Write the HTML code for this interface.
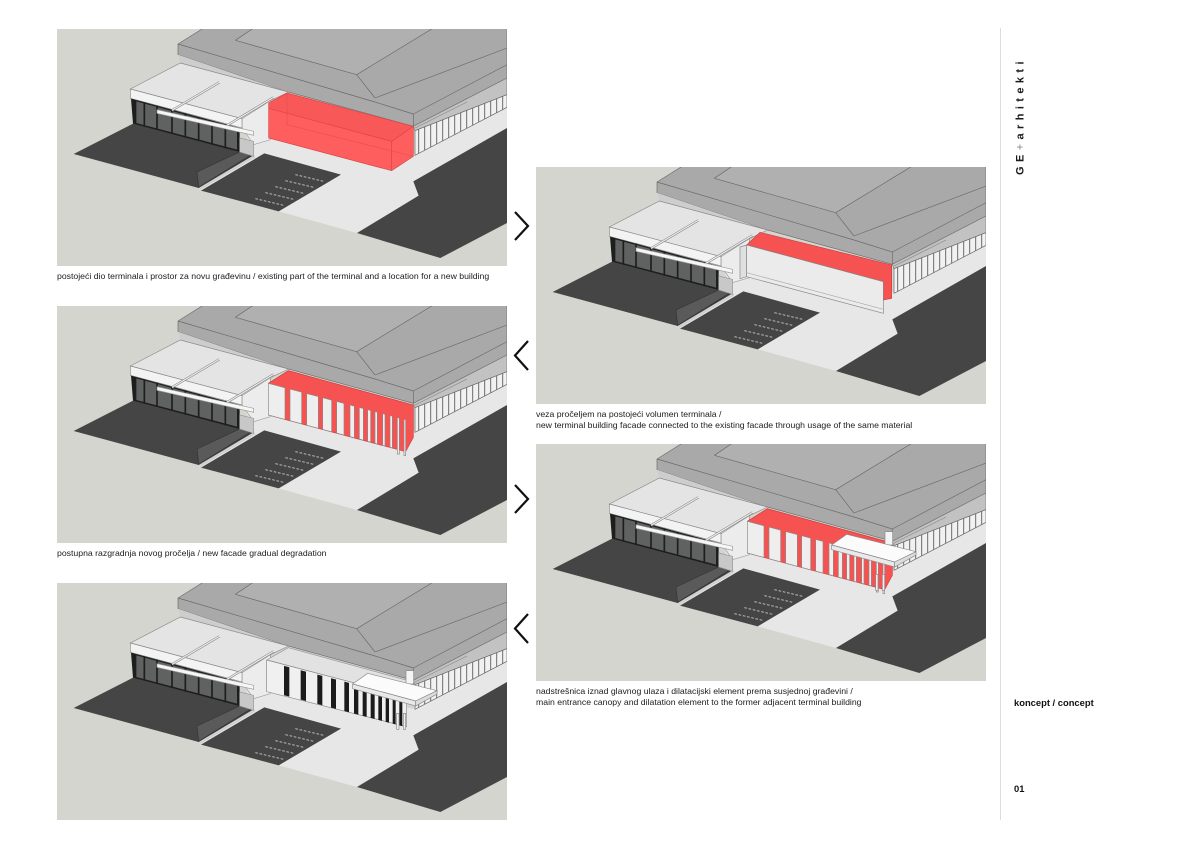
<!DOCTYPE html>
<html><head><meta charset="utf-8">
<style>
html,body{margin:0;padding:0;background:#fff;}
body{width:1200px;height:848px;overflow:hidden;position:relative;font-family:"Liberation Sans",Arial,sans-serif;}
.cap{position:absolute;font-size:8.7px;line-height:11px;color:#1c1c1c;white-space:nowrap;}
.side{position:absolute;font-size:9.4px;font-weight:bold;color:#111;white-space:nowrap;}
</style></head><body>
<svg width="1200" height="848" viewBox="0 0 1200 848" style="position:absolute;left:0;top:0">
<defs>
<clipPath id="pc"><rect x="0" y="3" width="1350" height="711"/></clipPath>
<g id="base">
  <rect x="0" y="3" width="1350" height="711" fill="#d4d5ce"/>
  <polygon points="555,290 1069,380 1350,220 1350,300 1069,460 1085,503 900,615 665,550 425,485 590,380" fill="#e7e7e7"/>
  <polygon points="50,378 232,285 555,372 590,382 425,480" fill="#454545"/>
  <polygon points="420,432 548,372 580,382 425,478" fill="#5a5a5a" stroke="#333" stroke-width="2"/>
  <line x1="428" y1="484" x2="594" y2="385" stroke="#d0d0d0" stroke-width="6"/>
  <polygon points="432,488 622,376 852,440 665,550" fill="#454545"/>
  <g stroke="#b5b5b5" stroke-width="3" stroke-dasharray="8 5">
    <line x1="715" y1="440" x2="800" y2="460"/>
    <line x1="685" y1="458" x2="770" y2="478"/>
    <line x1="655" y1="476" x2="740" y2="496"/>
    <line x1="625" y1="494" x2="710" y2="514"/>
    <line x1="595" y1="512" x2="680" y2="532"/>
  </g>
  <polygon points="1069,460 1350,300 1350,585 1150,690 900,615 1085,503" fill="#454545"/>
  <polygon points="440,0 1350,0 1350,150 1069,295 680,188 363,80 363,48" fill="#a9a9a9" stroke="#6a6a6a" stroke-width="2"/>
  <polygon points="590,0 1129,0 899,140 535,37" fill="#b0b0b0"/>
  <g stroke="#6a6a6a" stroke-width="2" fill="none">
    <line x1="363" y1="48" x2="954" y2="222"/>
    <line x1="954" y1="222" x2="1069" y2="258"/>
    <line x1="535" y1="37" x2="899" y2="140"/>
    <line x1="535" y1="37" x2="590" y2="0"/>
    <line x1="899" y1="140" x2="1129" y2="0"/>
    <line x1="899" y1="140" x2="954" y2="210"/>
    <line x1="954" y1="210" x2="1350" y2="60"/>
    <line x1="1069" y1="258" x2="1350" y2="110"/>
    <line x1="1069" y1="258" x2="1069" y2="295"/>
  </g>
  <polygon points="1069,295 1350,150 1350,200 1074,308" fill="#c2c2c2" stroke="#777" stroke-width="2"/>
  <line x1="1074" y1="300" x2="1230" y2="222" stroke="#888" stroke-width="2"/>
  <polygon points="1074,308 1350,200 1350,238 1074,382" fill="#f1f1f1" stroke="#666" stroke-width="2"/>
  <path d="M1085 304V376M1103 297V367M1121 290V358M1139 283V348M1157 276V339M1175 269V329M1193 262V320M1211 254V311M1229 247V301M1247 240V292M1265 233V282M1283 226V273M1301 219V264M1319 212V254M1337 205V245" stroke="#6d6d6d" stroke-width="3"/>
  <polygon points="363,80 680,188 695,192 370,105" fill="#cdcdcd"/>
  <polygon points="220,183 370,105 695,192 640,218 640,235 555,272" fill="#e4e4e4" stroke="#8a8a8a" stroke-width="2"/>
  <polygon points="555,272 640,218 640,335 590,350 555,300" fill="#ececec" stroke="#999" stroke-width="2"/>
  <polygon points="220,183 555,272 555,300 220,211" fill="#f3f3f3" stroke="#8a8a8a" stroke-width="2"/>
  <polygon points="222,212 548,300 548,372 228,287" fill="#1e1e1e"/>
  <polygon points="238,220 540,302 540,365 238,285" fill="#5f6261"/>
  <g stroke="#1e1e1e" stroke-width="5">
    <line x1="262" y1="223" x2="262" y2="296"/>
    <line x1="300" y1="233" x2="300" y2="306"/>
    <line x1="345" y1="245" x2="345" y2="318"/>
    <line x1="385" y1="256" x2="385" y2="329"/>
    <line x1="425" y1="267" x2="425" y2="339"/>
    <line x1="465" y1="278" x2="465" y2="350"/>
    <line x1="505" y1="288" x2="505" y2="361"/>
  </g>
  <polygon points="548,330 590,340 590,385 548,372" fill="#c8c8c8" stroke="#999" stroke-width="2"/>
  <polygon points="300,245 590,310 590,322 300,256" fill="#f6f6f6" stroke="#999" stroke-width="2"/>
  <line x1="345" y1="247" x2="487" y2="163" stroke="#8f8f8f" stroke-width="7"/>
  <line x1="345" y1="247" x2="487" y2="163" stroke="#f4f4f4" stroke-width="3"/>
  <line x1="510" y1="292" x2="650" y2="208" stroke="#8f8f8f" stroke-width="7"/>
  <line x1="510" y1="292" x2="650" y2="208" stroke="#f4f4f4" stroke-width="3"/>
</g>
<g id="redback">
  <polygon points="634,235 694,197 1069,300 1069,397 1046,440 634,330" fill="#f65252" stroke="#c84040" stroke-width="2"/>
</g>
<g id="fins" fill="#eeeeee" stroke="#8a8a8a" stroke-width="2">
  <polygon points="634,235 684,248.3 684,343.3 634,330"/>
  <polygon points="699,252.2 734,261.5 734,356.5 699,347.2"/>
  <polygon points="749,265.5 784,274.8 784,369.8 749,360.5"/>
  <polygon points="797,278.2 824,285.4 824,380.4 797,373.2"/>
  <polygon points="839,289.3 861,295.2 861,390.2 839,384.3"/>
  <polygon points="879,299.9 892,303.4 892,398.4 879,394.9"/>
  <polygon points="907,307.3 919,310.5 919,405.5 907,402.3"/>
  <polygon points="932,314 941,316.4 941,411.4 932,409"/>
  <polygon points="954,319.8 961,321.7 961,416.7 954,414.8"/>
  <polygon points="977,325.9 984,327.8 984,422.8 977,420.9"/>
  <polygon points="999,331.7 1006,333.6 1006,428.6 999,426.7"/>
  <polygon points="1021,337.6 1027,339.1 1027,447 1021,447"/>
  <polygon points="1041,342.9 1046,344.2 1046,452 1041,452"/>
</g>
<g id="canopy">
  <rect x="1047" y="266" width="23" height="40" fill="#f4f4f4" stroke="#888" stroke-width="2"/>
  <rect x="1019" y="394" width="7" height="48" fill="#f0f0f0" stroke="#888" stroke-width="2"/>
  <rect x="1039" y="394" width="7" height="48" fill="#f0f0f0" stroke="#888" stroke-width="2"/>
  <polygon points="887,306 932,274 1140,326 1076,357" fill="#fbfbfb" stroke="#888" stroke-width="2"/>
  <polygon points="887,306 1076,357 1076,372 887,320" fill="#e9e9e9" stroke="#888" stroke-width="2"/>
  <polygon points="1076,357 1140,326 1140,336 1076,372" fill="#dcdcdc" stroke="#888" stroke-width="2"/>
</g>
</defs>

<g transform="translate(57,28) scale(0.333333)"><g clip-path="url(#pc)">
  <use href="#base"/>
  <polygon points="635,225 690,195 1069,295 1069,385 1004,428 635,330" fill="#ff5e5e"/>
  <polygon points="635,225 690,195 1069,295 1004,340 635,241" fill="#f95858"/>
  <g stroke="#d84646" stroke-width="2" fill="none">
    <polygon points="635,225 690,195 1069,295 1069,385 1004,428 635,330"/>
    <polyline points="635,241 1004,340 1069,295"/>
    <line x1="1004" y1="340" x2="1004" y2="428"/>
    <polyline points="690,195 690,290 1069,385" stroke="#e65050"/>
  </g>
</g></g>

<g transform="translate(536,166) scale(0.333333)"><g clip-path="url(#pc)">
  <use href="#base"/>
  <polygon points="672,199 1067,297 1067,397 1042,402 1042,347 632,237" fill="#f65252" stroke="#c84040" stroke-width="2"/>
  <polygon points="612,243 632,237 632,332 612,338" fill="#e0e0e0" stroke="#888" stroke-width="2"/>
  <polygon points="632,237 1042,347 1042,442 632,332" fill="#ebebeb" stroke="#888" stroke-width="2"/>
  <line x1="632" y1="320" x2="1042" y2="430" stroke="#aaa" stroke-width="2"/>
</g></g>

<g transform="translate(57,305) scale(0.333333)"><g clip-path="url(#pc)">
  <use href="#base"/>
  <use href="#redback"/>
  <use href="#fins"/>
</g></g>

<g transform="translate(536,443) scale(0.333333)"><g clip-path="url(#pc)">
  <use href="#base"/>
  <use href="#redback"/>
  <use href="#fins"/>
  <use href="#canopy"/>
</g></g>

<g transform="translate(57,582) scale(0.333333)"><g clip-path="url(#pc)">
  <use href="#base"/>
  <polygon points="629,234 694,197 1069,300 1049,344" fill="#e2e2e2" stroke="#999" stroke-width="2"/>
  <polygon points="629,234 1049,344 1049,434 629,329" fill="#f0f0f0" stroke="#888" stroke-width="2"/>
  <g fill="#1b1b1b">
    <polygon points="681,251.6 697,255.8 697,343.8 681,339.6"/>
    <polygon points="731,264.7 747,268.9 747,356.9 731,352.7"/>
    <polygon points="781,277.8 796,281.8 796,369.8 781,365.8"/>
    <polygon points="822,288.6 837,292.5 837,380.5 822,376.6"/>
    <polygon points="862,299 876,302.7 876,390.7 862,387"/>
    <polygon points="891,306.6 904,310.1 904,398.1 891,394.6"/>
    <polygon points="917,313.5 929,316.6 929,404.6 917,401.5"/>
    <polygon points="941,319.7 953,322.9 953,410.9 941,407.7"/>
    <polygon points="964,325.8 975,328.7 975,416.7 964,413.8"/>
    <polygon points="986,331.5 996,334.2 996,422.2 986,419.5"/>
    <polygon points="1007,337 1016,339.4 1016,427.4 1007,425"/>
    <polygon points="1027,342.3 1036,344.6 1036,432.6 1027,430.3"/>
  </g>
  <use href="#canopy"/>
</g></g>

<g stroke="#111" stroke-width="2.2" fill="none" stroke-linejoin="miter">
  <polyline points="515,212 528,226 515,240"/>
  <polyline points="528,341 515,355.5 528,370"/>
  <polyline points="515,485 528,499 515,513"/>
  <polyline points="528,614 515,628.5 528,643"/>
</g>

<line x1="1000.5" y1="28" x2="1000.5" y2="820" stroke="#dcdcdc" stroke-width="1"/>
<text transform="translate(1023.5,175) rotate(-90)" font-family="Liberation Sans, Arial, sans-serif" font-size="11" font-weight="bold" letter-spacing="4.4" fill="#1a1a1a">GE<tspan font-weight="normal" fill="#888">+</tspan>arhitekti</text>
</svg>

<div class="cap" style="left:57px;top:270.5px;">postojeći dio terminala i prostor za novu građevinu / existing part of the terminal and a location for a new building</div>
<div class="cap" style="left:536px;top:408.5px;">veza pročeljem na postojeći volumen terminala /<br>new terminal building facade connected to the existing facade through usage of the same material</div>
<div class="cap" style="left:57px;top:547.5px;">postupna razgradnja novog pročelja / new facade gradual degradation</div>
<div class="cap" style="left:536px;top:685.5px;">nadstrešnica iznad glavnog ulaza i dilatacijski element prema susjednoj građevini /<br>main entrance canopy and dilatation element to the former adjacent terminal building</div>
<div class="side" style="left:1014px;top:697px;">koncept / concept</div>
<div class="side" style="left:1014px;top:783px;">01</div>
</body></html>
